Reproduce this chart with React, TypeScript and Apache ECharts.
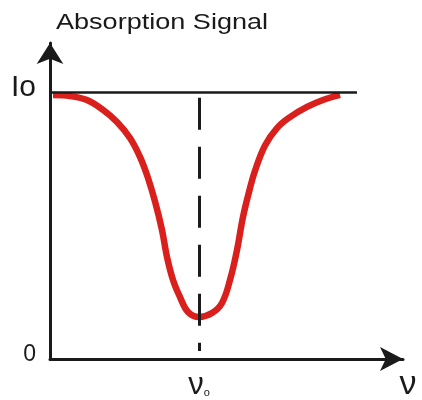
import React, { useEffect, useRef } from 'react';
import * as echarts from 'echarts';

// Frequency (arbitrary units) and absorption signal (relative to I0 = 1)
const FREQ = [3, 20, 37, 53, 67, 80, 90, 98, 105, 112, 117, 123, 130, 138, 149, 162, 172, 180, 187, 193, 200, 205, 215, 227, 240, 257, 273, 290];
const SIGNAL = [0.989, 0.985, 0.97, 0.933, 0.888, 0.828, 0.757, 0.678, 0.59, 0.483, 0.382, 0.296, 0.232, 0.176, 0.157, 0.172, 0.21, 0.296, 0.408, 0.532, 0.64, 0.705, 0.8, 0.865, 0.906, 0.944, 0.97, 0.989];

const NU0 = 149;
const I0 = 1;
const X_MAX = 353;
const Y_MAX = 1.1835;
const Y_TICKS = [0, I0];
const Y_TICK_LABELS = ['{z|0}', '{i|Io}'];
const X_TICKS = [NU0];
const X_TICK_LABELS = ['{n|ν}{s|o}'];
const X_NAME = 'ν';
const TITLE = 'Absorption Signal';
const BASELINE_END = 307;
const DASH_RANGE = [0.03, 0.978];

export default function App() {
  const ref = useRef<HTMLDivElement>(null);
  useEffect(() => {
    const chart = echarts.init(ref.current!, null, { renderer: 'svg' });
    const font = '"Liberation Sans", Arial, sans-serif';
    const ink = '#1a1a1a';
    chart.setOption({
      animation: false,
      grid: { left: 50, right: 19, top: 43, bottom: 41 },
      xAxis: {
        type: 'value',
        min: 0,
        max: X_MAX,
        splitLine: { show: false },
        axisTick: { show: false },
        axisLine: {
          show: true,
          symbol: ['none', 'arrow'],
          symbolSize: [18, 23],
          lineStyle: { color: ink, width: 3 },
        },
        axisLabel: {
          customValues: X_TICKS,
          formatter: (v: number) => X_TICK_LABELS[X_TICKS.indexOf(v)] ?? '',
          margin: 9,
          rich: {
            n: { fontSize: 31, fontFamily: font, color: ink },
            s: { fontSize: 11, fontFamily: font, color: ink, verticalAlign: 'bottom', padding: [0, 0, 2, 0] },
          },
        },
        name: X_NAME,
        nameLocation: 'end',
        nameGap: 5,
        nameTextStyle: {
          fontSize: 34,
          fontFamily: font,
          color: ink,
          align: 'center',
          verticalAlign: 'top',
          padding: [6, 0, 0, 0],
        },
      },
      yAxis: {
        type: 'value',
        min: 0,
        max: Y_MAX,
        splitLine: { show: false },
        axisTick: { show: false },
        axisLine: {
          show: true,
          symbol: ['none', 'arrow'],
          symbolSize: [20, 21],
          lineStyle: { color: ink, width: 3 },
        },
        axisLabel: {
          customValues: Y_TICKS,
          formatter: (v: number) => Y_TICK_LABELS[Y_TICKS.indexOf(v)] ?? '',
          margin: 14,
          padding: [0, 0, 12, 0],
          rich: {
            z: { fontSize: 23, fontFamily: font, color: ink },
            i: { fontSize: 30, fontFamily: font, color: ink },
          },
        },
      },
      graphic: [
        {
          type: 'text',
          x: 56,
          y: 21,
          scaleX: 1.23,
          style: {
            text: TITLE,
            fontSize: 22,
            fontFamily: font,
            fill: ink,
            verticalAlign: 'middle',
          },
        },
      ],
      series: [
        {
          type: 'line',
          data: FREQ.map((f, i) => [f, SIGNAL[i]]),
          smooth: 0.4,
          symbol: 'none',
          silent: true,
          lineStyle: { color: '#d9201c', width: 6.5 },
          z: 2,
          markLine: {
            silent: true,
            symbol: ['none', 'none'],
            label: { show: false },
            emphasis: { disabled: true },
            data: [
              [
                { coord: [0, I0], lineStyle: { type: 'solid', width: 2.5, color: ink } },
                { coord: [BASELINE_END, I0] },
              ],
              [
                { coord: [NU0, DASH_RANGE[1]], lineStyle: { type: [32, 17], width: 3, color: ink } },
                { coord: [NU0, DASH_RANGE[0]] },
              ],
            ],
          },
        },
      ],
    });
    return () => chart.dispose();
  }, []);
  return <div ref={ref} style={{ position: 'fixed', left: 0, top: 0, width: 422, height: 400 }} />;
}
